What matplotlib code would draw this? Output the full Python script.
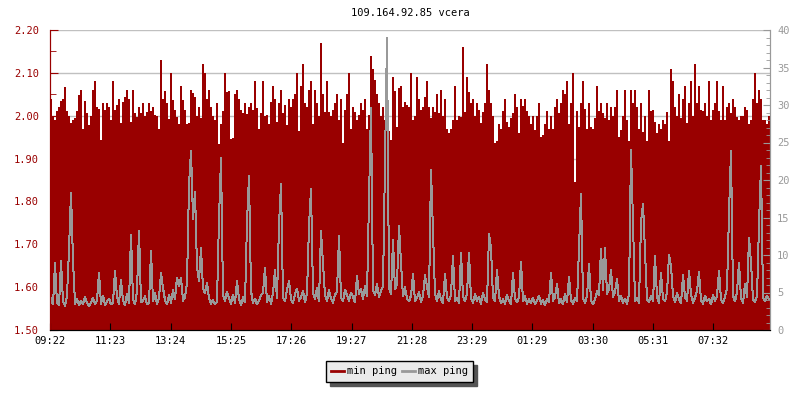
import numpy as np
import matplotlib
matplotlib.use('Agg')
import matplotlib.pyplot as plt
from matplotlib.lines import Line2D
from matplotlib.ticker import MultipleLocator

plt.rcParams['font.family'] = 'DejaVu Sans Mono'
plt.rcParams['font.size'] = 7.5

title = '109.164.92.85 vcera'
sample_minutes = 4          # one sample every 4 minutes, 24 h window
tick_step_minutes = 120.6
tick_labels = ['09:22', '11:23', '13:24', '15:25', '17:26', '19:27',
               '21:28', '23:29', '01:29', '03:30', '05:31', '07:32']

# min ping (ms), left axis
min_ping = [
    2.038, 1.999, 1.990, 2.011, 2.020, 2.034, 2.039, 2.068, 2.011, 1.999,
    1.984, 1.990, 1.994, 2.011, 2.048, 2.060, 1.970, 2.034, 2.006, 1.979,
    1.999, 2.060, 2.081, 2.021, 2.015, 1.943, 2.030, 2.013, 2.029, 2.021,
    1.990, 2.081, 2.013, 2.025, 2.039, 1.982, 2.033, 2.044, 2.060, 2.038,
    1.986, 2.060, 2.006, 1.996, 2.020, 2.007, 2.029, 1.999, 2.009, 2.030,
    2.011, 2.020, 2.002, 1.999, 1.968, 2.130, 2.040, 2.058, 2.029, 1.992,
    2.099, 2.037, 2.013, 1.996, 1.981, 2.069, 2.037, 2.013, 1.980, 1.982,
    2.060, 2.054, 2.044, 1.999, 2.020, 1.995, 2.121, 2.099, 2.040, 2.060,
    2.020, 1.999, 1.990, 2.030, 1.935, 1.981, 2.011, 2.099, 2.056, 2.058,
    1.946, 1.948, 2.051, 2.060, 2.039, 2.013, 2.007, 2.030, 2.003, 2.021,
    2.030, 2.013, 2.081, 2.019, 1.970, 2.006, 2.081, 1.999, 2.001, 1.981,
    2.032, 2.069, 2.038, 1.986, 2.029, 2.060, 2.006, 2.025, 1.979, 2.040,
    2.020, 2.038, 2.051, 2.099, 1.965, 2.069, 2.121, 2.030, 2.020, 2.060,
    2.081, 1.981, 2.060, 2.030, 1.999, 2.170, 2.051, 2.009, 2.081, 2.009,
    1.999, 2.013, 2.030, 2.051, 1.990, 2.038, 1.936, 2.013, 2.051, 2.099,
    1.970, 2.020, 2.009, 1.990, 2.002, 2.030, 2.013, 2.039, 1.970, 2.002,
    2.139, 2.108, 2.083, 2.051, 2.030, 1.999, 2.020, 1.990, 2.030, 1.964,
    1.943, 2.091, 2.058, 1.973, 2.064, 2.069, 2.020, 2.033, 2.025, 2.020,
    2.099, 1.990, 1.999, 2.091, 2.038, 2.013, 2.020, 2.044, 2.081, 2.020,
    1.994, 2.021, 2.009, 2.051, 2.006, 2.060, 1.999, 2.040, 1.968, 1.960,
    1.968, 1.990, 2.069, 1.990, 1.999, 1.996, 2.161, 2.009, 2.091, 2.056,
    2.030, 2.038, 1.999, 2.030, 2.013, 1.984, 2.009, 2.030, 2.121, 2.060,
    2.030, 1.999, 1.936, 1.940, 1.981, 1.968, 2.011, 2.039, 1.985, 1.974,
    1.994, 2.007, 2.051, 2.021, 1.960, 2.038, 2.023, 2.038, 2.011, 1.999,
    1.981, 1.999, 1.967, 1.999, 2.030, 1.951, 1.955, 1.981, 2.011, 1.970,
    1.999, 1.970, 2.020, 2.039, 2.006, 2.030, 2.060, 2.051, 2.081, 1.981,
    2.030, 2.099, 1.845, 2.011, 1.973, 2.030, 2.081, 2.015, 1.970, 2.030,
    1.974, 1.970, 1.994, 2.069, 2.011, 2.030, 2.006, 1.994, 2.030, 1.990,
    2.020, 1.999, 2.021, 2.060, 1.951, 1.967, 1.999, 2.060, 1.990, 1.940,
    2.060, 2.030, 2.060, 2.020, 1.970, 2.030, 1.963, 1.999, 1.940, 2.060,
    2.011, 2.013, 1.985, 1.960, 1.980, 1.968, 1.990, 1.981, 2.009, 1.940,
    2.108, 2.081, 2.020, 1.999, 2.051, 1.994, 2.039, 2.069, 1.984, 2.030,
    2.081, 1.999, 2.121, 2.030, 2.069, 2.013, 2.011, 2.030, 1.999, 2.081,
    1.990, 2.013, 2.030, 2.081, 2.011, 1.990, 2.069, 1.990, 2.020, 2.030,
    2.006, 2.039, 2.021, 1.996, 1.990, 1.999, 1.999, 2.020, 2.013, 1.980,
    1.990, 2.038, 2.099, 2.030, 2.060, 2.038, 1.990, 1.990, 1.981, 1.999,
]

# max ping (ms), right axis
max_ping = [
    4.2, 3.4, 8.9, 3.6, 3.3, 9.2, 3.8, 3.2, 4.6, 10.7, 18.3, 9.3, 3.5, 4.1, 3.3, 3.9, 3.4, 4.4, 3.6, 3.2,
    3.7, 4.3, 3.4, 3.9, 7.6, 3.5, 4.6, 3.3, 3.8, 4.2, 3.4, 3.6, 7.9, 4.4, 3.5, 6.7, 3.9, 3.3, 4.8, 3.6,
    12.7, 4.1, 3.4, 5.2, 13.2, 3.7, 3.9, 4.5, 3.4, 3.6, 10.5, 3.8, 4.9, 3.5, 4.3, 7.6, 5.6, 4.0, 3.4, 4.7,
    3.6, 5.3, 4.1, 7.0, 5.8, 7.0, 3.9, 4.4, 6.2, 19.3, 23.9, 14.8, 18.4, 8.4, 6.5, 10.9, 5.6, 4.9, 6.3, 4.2,
    3.5, 4.0, 3.4, 3.8, 14.9, 22.9, 4.6, 3.9, 5.1, 4.3, 3.5, 4.7, 3.6, 6.5, 4.1, 3.3, 4.4, 3.7, 14.4, 20.5,
    5.2, 3.6, 4.2, 3.4, 3.9, 4.6, 5.0, 8.3, 3.7, 4.5, 3.5, 4.9, 8.0, 4.2, 14.0, 19.5, 4.3, 3.8, 5.4, 6.5,
    4.1, 3.6, 4.8, 5.5, 3.9, 4.4, 5.2, 3.7, 4.9, 13.9, 18.8, 5.0, 4.1, 5.6, 3.8, 13.2, 8.9, 4.6, 3.9, 5.3,
    4.2, 3.6, 4.7, 5.1, 12.5, 4.3, 3.8, 5.4, 4.6, 3.9, 5.0, 4.4, 3.7, 7.2, 4.8, 5.5, 4.1, 5.9, 4.5, 17.5,
    29.6, 5.3, 4.7, 6.1, 4.4, 5.2, 5.8, 22.7, 39.0, 5.6, 4.8, 12.0, 5.4, 6.2, 13.9, 8.9, 4.5, 5.7, 4.2, 3.8,
    4.6, 7.5, 3.9, 4.3, 5.1, 3.7, 4.5, 7.3, 5.8, 4.4, 21.3, 12.9, 4.8, 3.9, 5.2, 4.1, 3.6, 7.5, 4.4, 3.8,
    4.7, 9.9, 3.9, 4.3, 3.6, 10.3, 4.5, 3.8, 4.9, 10.3, 4.2, 3.6, 4.8, 3.9, 4.4, 3.5, 5.0, 4.1, 3.7, 12.8,
    11.0, 4.3, 3.8, 8.0, 4.5, 3.6, 4.1, 3.5, 4.7, 3.9, 3.4, 7.6, 4.2, 3.7, 4.4, 9.1, 3.8, 4.5, 3.5, 4.1,
    3.6, 4.3, 3.4, 3.9, 4.6, 3.5, 4.0, 3.3, 4.2, 3.7, 7.6, 3.9, 4.4, 6.1, 3.6, 4.1, 3.4, 4.8, 3.7, 7.1,
    4.0, 3.5, 4.3, 3.8, 11.0, 18.1, 4.2, 3.6, 4.5, 8.8, 3.9, 3.4, 4.1, 5.2, 4.6, 10.8, 5.3, 11.0, 4.8, 5.5,
    8.0, 4.4, 5.1, 6.8, 3.9, 4.5, 3.6, 4.2, 3.5, 4.8, 24.0, 14.4, 3.8, 4.3, 3.6, 14.4, 16.8, 10.4, 4.1, 3.7,
    4.6, 3.9, 9.9, 4.4, 3.6, 7.6, 4.2, 3.8, 5.0, 10.0, 8.5, 4.5, 3.7, 4.9, 4.1, 3.6, 7.3, 4.4, 3.9, 7.9,
    4.8, 3.6, 4.3, 5.2, 7.7, 4.0, 3.5, 4.6, 3.8, 4.2, 3.4, 4.7, 3.9, 4.5, 7.9, 4.1, 3.6, 4.4, 5.5, 15.5,
    23.9, 4.6, 3.8, 5.1, 9.0, 4.2, 3.6, 6.1, 4.4, 12.3, 9.0, 4.1, 3.7, 4.5, 14.1, 21.9, 4.3, 3.8, 4.6, 4.1,
]

dark_red = '#990000'
gray = '#999999'

edges = np.arange(len(min_ping) + 1) * sample_minutes
centers = (edges[:-1] + edges[1:]) / 2

fig = plt.figure(figsize=(8, 4), dpi=100)
ax = fig.add_axes([50 / 800, 70 / 400, 720 / 800, 300 / 400])
ax2 = ax.twinx()

# grid behind the fill
ax.set_ylim(1.5, 2.2)
for y in np.arange(1.6, 2.21, 0.1):
    ax.axhline(y, color='#c0c0c0', lw=1, zorder=0)

ax.stairs(min_ping, edges, baseline=1.5, fill=True, color=dark_red, zorder=1,
          antialiased=False)
ax2.plot(centers, max_ping, color=gray, lw=0.72, antialiased=False)

ax.set_xlim(0, edges[-1])
ax2.set_ylim(0, 40)

ticks = np.arange(len(tick_labels)) * tick_step_minutes
ax.set_xticks(ticks)
ax.set_xticklabels(tick_labels)
ax.tick_params(axis='x', direction='in', length=5, color='black', pad=4, labelsize=7.5)

ax.yaxis.set_major_locator(MultipleLocator(0.1))
ax.yaxis.set_minor_locator(MultipleLocator(0.05))
ax.set_yticklabels([f'{v:.2f}' for v in ax.get_yticks()])
ax.tick_params(axis='y', which='major', direction='in', length=6, color=dark_red,
               labelcolor=dark_red, pad=8, labelsize=7.5)
ax.tick_params(axis='y', which='minor', direction='in', length=4, color=dark_red)

ax2.yaxis.set_major_locator(MultipleLocator(5))
ax2.yaxis.set_minor_locator(MultipleLocator(1))
ax2.tick_params(axis='y', which='major', direction='in', length=5, color=gray,
                labelcolor=gray, pad=5, labelsize=7.5)
ax2.tick_params(axis='y', which='minor', direction='in', length=3, color=gray)

for a in (ax, ax2):
    a.spines['top'].set_visible(False)
    a.spines['left'].set_color(dark_red)
    a.spines['right'].set_color(gray)
    a.spines['bottom'].set_color('black')

fig.text(410 / 800, 1 - 13 / 400, title, ha='center', va='center', fontsize=7.5)

handles = [Line2D([], [], color=dark_red, lw=2), Line2D([], [], color=gray, lw=2)]
leg = fig.legend(handles, ['min ping', 'max ping'], ncol=2, loc='center',
                 bbox_to_anchor=(399.5 / 800, 1 - 371.5 / 400), fontsize=7.5,
                 frameon=True, fancybox=False, edgecolor='black', facecolor='#eaeaea',
                 framealpha=1, handlelength=1.2, handletextpad=0.3, columnspacing=0.5,
                 borderpad=0.5, borderaxespad=0,
                 shadow={'color': '#555555', 'alpha': 1, 'ox': 3, 'oy': -3})
leg.get_frame().set_linewidth(1)

fig.savefig('out.png', dpi=100)
